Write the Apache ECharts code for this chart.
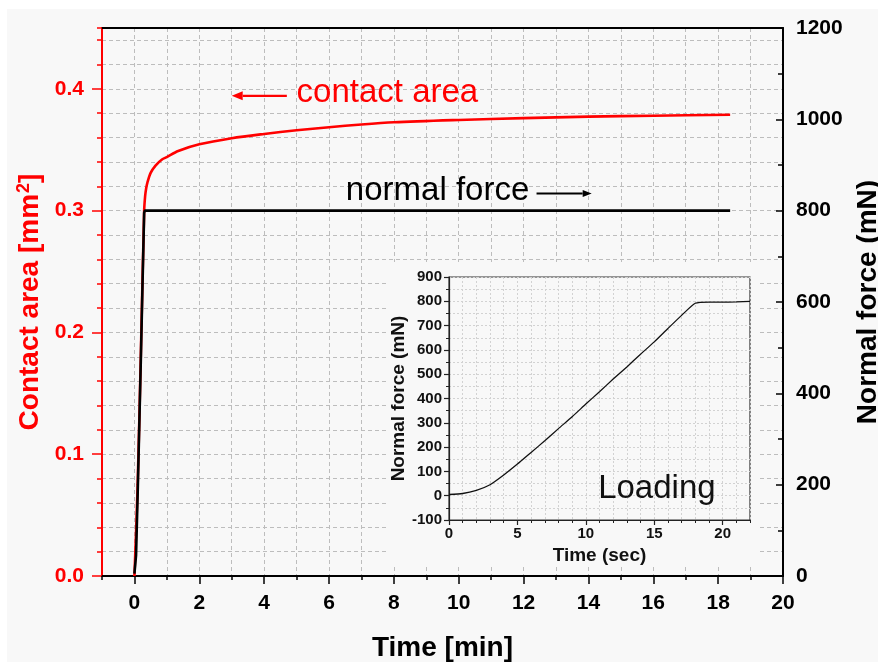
<!DOCTYPE html>
<html>
<head>
<meta charset="utf-8">
<script src="https://cdn.jsdelivr.net/npm/echarts@6/dist/echarts.min.js"></script>
<style>
html, body { margin: 0; padding: 0; background: #ffffff; }
#chart { width: 878px; height: 662px; }
</style>
</head>
<body>
<div id="chart"></div>
<script>
// Contact area (mm^2) versus time (min)
const areaTimeMin = [0, 0.1, 0.2, 0.3, 0.33, 0.36, 0.4, 0.5, 0.65, 0.85, 1.0, 1.35, 2, 3, 4, 5, 6, 7, 8, 10, 12, 14, 16, 18.37];
const contactArea = [0, 0.075, 0.185, 0.3, 0.312, 0.318, 0.323, 0.331, 0.337, 0.342, 0.344, 0.349, 0.3545, 0.3595, 0.363, 0.366, 0.3685, 0.3708, 0.3726, 0.3745, 0.376, 0.3772, 0.378, 0.3788];

// Normal force (mN) versus time (min)
const forceTimeMin = [0, 0.05, 0.1, 0.15, 0.2, 0.25, 0.3, 0.32, 18.37];
const normalForce = [5, 45, 180, 330, 480, 640, 795, 800, 800];

// Loading ramp (inset): normal force (mN) versus time (sec)
const loadTimeSec = [0, 1, 2, 3, 4, 5, 6, 7, 8, 9, 10, 11, 12, 13, 14, 15, 16, 17, 18, 19, 20, 21, 22];
const loadForce = [5, 9, 22, 45, 85, 130, 178, 226, 276, 325, 377, 428, 480, 530, 582, 633, 688, 742, 792, 797, 797, 798, 800];

// Tick labels
const timeTicks = [0, 2, 4, 6, 8, 10, 12, 14, 16, 18, 20];
const areaTicks = [0, 0.1, 0.2, 0.3, 0.4];
const loadTimeTicks = [0, 5, 10, 15, 20];

const FONT = '"Liberation Sans", Arial, Helvetica, sans-serif';
const RED = '#ff0000';
const BLACK = '#000000';
const BG = '#f8f8f8';
const GRID_LINE = { show: true, lineStyle: { color: '#bdbdbd', width: 1, type: [4, 3] } };
const INSET_LINE = { show: true, lineStyle: { color: '#d2d2d2', width: 1, type: [2, 2] } };

const zip = (xs, ys) => xs.map((x, i) => [x, ys[i]]);
const plain = v => String(v);

const chart = echarts.init(document.getElementById('chart'), null, { renderer: 'canvas' });

const tickFont = { fontFamily: FONT, fontWeight: 'bold' };

const option = {
  animation: false,
  backgroundColor: BG,
  grid: [
    { left: 102, top: 28, right: 95, bottom: 86, containLabel: false, outerBoundsMode: 'none',
      show: true, backgroundColor: BG, borderWidth: 0 },
    { left: 449, top: 277, right: 128, bottom: 142, containLabel: false, outerBoundsMode: 'none',
      show: true, borderColor: '#333333', borderWidth: 1.2, backgroundColor: 'transparent', z: 5 }
  ],
  xAxis: [
    { // main time axis: minor ticks and vertical grid
      type: 'value', gridIndex: 0, position: 'bottom', min: -1, max: 20, interval: 1,
      axisLine: { show: true, onZero: false, lineStyle: { color: BLACK, width: 2 } },
      axisTick: { show: true, length: 4, lineStyle: { color: BLACK, width: 1.5 } },
      axisLabel: { show: false },
      splitLine: GRID_LINE
    },
    { // main time axis: labelled ticks and title
      type: 'value', gridIndex: 0, position: 'bottom', min: -1, max: 20,
      axisLine: { show: false, onZero: false },
      axisTick: { show: true, customValues: timeTicks, length: 8, lineStyle: { color: BLACK, width: 1.5 } },
      axisLabel: { show: true, customValues: timeTicks, color: BLACK, fontSize: 21, margin: 17, ...tickFont, formatter: plain },
      splitLine: { show: false },
      name: 'Time [min]', nameLocation: 'middle', nameGap: 58,
      nameTextStyle: { color: BLACK, fontSize: 28, fontWeight: 'bold', fontFamily: FONT }
    },
    { // top frame line
      type: 'value', gridIndex: 0, position: 'top', min: -1, max: 20,
      axisLine: { show: true, onZero: false, lineStyle: { color: BLACK, width: 2 } },
      axisTick: { show: false }, axisLabel: { show: false }, splitLine: { show: false }
    },
    { // inset time axis: minor ticks and grid
      type: 'value', gridIndex: 1, position: 'bottom', min: 0, max: 22, interval: 1, z: 6,
      axisLine: { show: true, onZero: false, lineStyle: { color: '#222222', width: 1.2 } },
      axisTick: { show: true, length: 3, lineStyle: { color: '#222222', width: 1 } },
      axisLabel: { show: false },
      splitLine: INSET_LINE
    },
    { // inset time axis: labels and title
      type: 'value', gridIndex: 1, position: 'bottom', min: 0, max: 22, z: 6,
      axisLine: { show: false, onZero: false },
      axisTick: { show: true, customValues: loadTimeTicks, length: 5, lineStyle: { color: '#222222', width: 1.2 } },
      axisLabel: { show: true, customValues: loadTimeTicks, color: '#111111', fontSize: 15, margin: 6, ...tickFont, formatter: plain },
      splitLine: { show: false },
      name: 'Time (sec)', nameLocation: 'middle', nameGap: 26,
      nameTextStyle: { color: '#111111', fontSize: 19, fontWeight: 'bold', fontFamily: FONT }
    }
  ],
  yAxis: [
    { // contact area: minor ticks and horizontal grid
      type: 'value', gridIndex: 0, position: 'left', min: 0, max: 0.45, interval: 0.02,
      axisLine: { show: true, onZero: false, lineStyle: { color: RED, width: 2 } },
      axisTick: { show: true, length: 5, lineStyle: { color: RED, width: 1.5 } },
      axisLabel: { show: false },
      splitLine: GRID_LINE
    },
    { // contact area: labelled ticks and title
      type: 'value', gridIndex: 0, position: 'left', min: 0, max: 0.45,
      axisLine: { show: false, onZero: false },
      axisTick: { show: true, customValues: areaTicks, length: 10, lineStyle: { color: RED, width: 1.5 } },
      axisLabel: { show: true, customValues: areaTicks, color: RED, fontSize: 21, margin: 18, ...tickFont,
        formatter: v => v.toFixed(1) },
      splitLine: { show: false },
      name: '{b|Contact area [mm}{s|2}{b|]}', nameLocation: 'middle', nameGap: 54, nameRotate: 90,
      nameTextStyle: {
        color: RED, fontSize: 28, fontWeight: 'bold', fontFamily: FONT,
        rich: {
          b: { color: RED, fontSize: 28, fontWeight: 'bold', fontFamily: FONT },
          s: { color: RED, fontSize: 18, fontWeight: 'bold', fontFamily: FONT, verticalAlign: 'top', padding: [0, 0, 12, 1] }
        }
      }
    },
    { // normal force (right)
      type: 'value', gridIndex: 0, position: 'right', min: 0, max: 1200, interval: 200,
      axisLine: { show: true, onZero: false, lineStyle: { color: BLACK, width: 2 } },
      axisTick: { show: true, inside: true, length: 7, lineStyle: { color: BLACK, width: 1.5 } },
      minorTick: { show: true, splitNumber: 2, length: 5, lineStyle: { color: BLACK, width: 1.5 } },
      axisLabel: { show: true, color: BLACK, fontSize: 21, margin: 13, ...tickFont, formatter: plain },
      splitLine: { show: false },
      name: 'Normal force (mN)', nameLocation: 'middle', nameGap: 71, nameRotate: 90,
      nameTextStyle: { color: BLACK, fontSize: 28, fontWeight: 'bold', fontFamily: FONT }
    },
    { // inset normal force
      type: 'value', gridIndex: 1, position: 'left', min: -100, max: 900, interval: 100, z: 6,
      axisLine: { show: true, onZero: false, lineStyle: { color: '#222222', width: 1.2 } },
      axisTick: { show: true, length: 5, lineStyle: { color: '#222222', width: 1.2 } },
      minorTick: { show: true, splitNumber: 2, length: 3, lineStyle: { color: '#222222', width: 1 } },
      axisLabel: { show: true, color: '#111111', fontSize: 15, margin: 7, ...tickFont, formatter: plain },
      splitLine: INSET_LINE,
      minorSplitLine: INSET_LINE,
      name: 'Normal force (mN)', nameLocation: 'middle', nameGap: 40, nameRotate: 90,
      nameTextStyle: { color: '#111111', fontSize: 19, fontWeight: 'bold', fontFamily: FONT }
    }
  ],
  series: [
    {
      name: 'contact area', type: 'line', xAxisIndex: 0, yAxisIndex: 0,
      data: zip(areaTimeMin, contactArea), showSymbol: false, smooth: 0.3, z: 3,
      lineStyle: { color: RED, width: 2.6 }
    },
    {
      name: 'normal force', type: 'line', xAxisIndex: 0, yAxisIndex: 2,
      data: zip(forceTimeMin, normalForce), showSymbol: false, z: 4,
      lineStyle: { color: BLACK, width: 2.6 }
    },
    {
      name: 'loading', type: 'line', xAxisIndex: 3, yAxisIndex: 3,
      data: zip(loadTimeSec, loadForce), showSymbol: false, smooth: 0.2, z: 7,
      lineStyle: { color: '#111111', width: 1.3 }
    }
  ]
};

chart.setOption(option);

// Annotations placed in data coordinates
const px = (xi, yi, pt) => chart.convertToPixel({ xAxisIndex: xi, yAxisIndex: yi }, pt);

function arrow(from, to, color, headLen, headHalf, width) {
  const dx = to[0] - from[0], dy = to[1] - from[1];
  const len = Math.hypot(dx, dy), ux = dx / len, uy = dy / len;
  const bx = to[0] - ux * headLen, by = to[1] - uy * headLen;
  return [
    { type: 'line', z: 10, shape: { x1: from[0], y1: from[1], x2: bx, y2: by }, style: { stroke: color, lineWidth: width } },
    { type: 'polygon', z: 10, shape: { points: [to, [bx - uy * headHalf, by + ux * headHalf], [bx + uy * headHalf, by - ux * headHalf]] }, style: { fill: color } }
  ];
}

const areaLabel = px(0, 0, [5.0, 0.397]);
const areaArrowTail = px(0, 0, [4.7, 0.3943]);
const areaArrowHead = px(0, 0, [3.0, 0.3943]);
const forceLabel = px(0, 0, [6.52, 0.3165]);
const forceArrowTail = px(0, 0, [12.4, 0.314]);
const forceArrowHead = px(0, 0, [14.1, 0.314]);
const loadingLabel = px(3, 3, [10.9, 27]);

const annFont = '33px ' + FONT;

chart.setOption({
  graphic: [
    { type: 'rect', z: 100, silent: true, shape: { x: 0, y: 0, width: 878, height: 9 }, style: { fill: '#ffffff' } },
    { type: 'rect', z: 100, silent: true, shape: { x: 0, y: 0, width: 7, height: 662 }, style: { fill: '#ffffff' } },
    { type: 'rect', z: 3, silent: true, shape: { x: 387, y: 262, width: 370, height: 304 }, style: { fill: BG } },
    { type: 'text', z: 10, x: areaLabel[0], y: areaLabel[1],
      style: { text: 'contact area', fill: RED, font: annFont, textAlign: 'left', textVerticalAlign: 'middle' } },
    ...arrow(areaArrowTail, areaArrowHead, RED, 11, 4.5, 2.2),
    { type: 'text', z: 10, x: forceLabel[0], y: forceLabel[1],
      style: { text: 'normal force', fill: BLACK, font: annFont, textAlign: 'left', textVerticalAlign: 'middle' } },
    ...arrow(forceArrowTail, forceArrowHead, BLACK, 9, 3.5, 2),
    { type: 'text', z: 10, x: loadingLabel[0], y: loadingLabel[1],
      style: { text: 'Loading', fill: '#111111', font: annFont, textAlign: 'left', textVerticalAlign: 'middle' } }
  ]
});
</script>
</body>
</html>
